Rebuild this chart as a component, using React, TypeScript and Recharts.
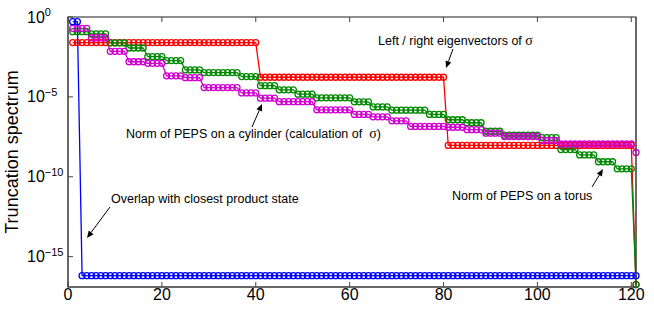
import { LineChart, Line, XAxis, YAxis } from 'recharts'

// index of each singular value (x axis)
const positions = Array.from({ length: 121 }, (_, k) => k + 1)

const overlapRuns: [number, number][] = [
    [-0.29, 2],
    [-16.19, 119],
]
const eigenvectorRuns: [number, number][] = [
    [-1.6, 40],
    [-3.77, 40],
    [-8.04, 40],
    [-16.75, 1],
]
const torusRuns: [number, number][] = [
    [-0.92, 4], [-1.06, 4], [-1.62, 4], [-1.94, 4], [-2.48, 4], [-2.73, 4],
    [-3.31, 4], [-3.48, 8], [-3.73, 4], [-4.3, 4], [-4.56, 4], [-4.83, 4],
    [-5.06, 8], [-5.31, 4], [-5.63, 4], [-5.83, 8], [-6.1, 4], [-6.43, 4],
    [-6.62, 4], [-7.15, 4], [-7.4, 8], [-7.55, 4], [-8.3, 4], [-8.63, 4],
    [-9.06, 4], [-9.5, 4], [-16.75, 1],
]
const cylinderRuns: [number, number][] = [
    [-0.71, 4], [-1.3, 4], [-2.15, 4], [-2.8, 4], [-2.9, 4], [-3.68, 4],
    [-3.8, 4], [-4.42, 8], [-4.75, 4], [-5.08, 4], [-5.3, 8], [-5.81, 8],
    [-6.1, 4], [-6.25, 4], [-6.5, 4], [-6.85, 8], [-6.9, 4], [-7.05, 4],
    [-7.27, 4], [-7.48, 8], [-7.73, 4], [-7.95, 16], [-8.48, 1],
]

const xTicks = [0, 20, 40, 60, 80, 100, 120]
const yTicks = [1, 1e-5, 1e-10, 1e-15]
const yTickExponents = ['0', '\u22125', '\u221210', '\u221215']

const yMin = Math.pow(10, -16.9)
const yTop = 1

const axisColor = '#444'
const font = '"Liberation Sans", Arial, sans-serif'

// plot box
const W = 654
const H = 312
const plotLeft = 68
const plotRight = 636
const plotTop = 17
const plotBottom = 287

const expand = (runs: [number, number][]) =>
    runs.flatMap(([e, n]) => Array(n).fill(Math.pow(10, e)) as number[])

const overlap = expand(overlapRuns)
const eigen = expand(eigenvectorRuns)
const torus = expand(torusRuns)
const cylinder = expand(cylinderRuns)

const data = positions.map((p, k) => ({
    n: p,
    overlap: overlap[k],
    eigen: eigen[k],
    torus: torus[k],
    cylinder: cylinder[k],
}))

const series = [
    { key: 'eigen', color: '#ff0000' },
    { key: 'torus', color: '#008a00' },
    { key: 'cylinder', color: '#d000d0' },
    { key: 'overlap', color: '#0000ff' },
]

function BottomTick({ x, y, payload }: any) {
    return (
        <g>
            <line x1={x} y1={y} x2={x} y2={y - 5} stroke={axisColor} />
            {/* matching inward tick on the top edge */}
            <line x1={x} y1={plotTop} x2={x} y2={plotTop + 5} stroke={axisColor} />
            <text x={x} y={y + 13} textAnchor='middle' fontSize={16} fill='#000' fontFamily={font}>
                {payload.value}
            </text>
        </g>
    )
}

function LeftTick({ x, y, index }: any) {
    return (
        <g>
            <line x1={x} y1={y} x2={x + 5} y2={y} stroke={axisColor} />
            <text x={x - 41} y={y + 5.5} fontSize={16} fill='#000' fontFamily={font}>
                10
                <tspan dy={-6.5} fontSize={11}>
                    {yTickExponents[index]}
                </tspan>
            </text>
        </g>
    )
}

function RightTick({ x, y }: any) {
    return <line x1={x} y1={y} x2={x - 5} y2={y} stroke={axisColor} />
}

function Arrow({ x1, y1, x2, y2 }: { x1: number; y1: number; x2: number; y2: number }) {
    const a = Math.atan2(y2 - y1, x2 - x1)
    const len = 7
    const w = 3
    const bx = x2 - len * Math.cos(a)
    const by = y2 - len * Math.sin(a)
    const px = -Math.sin(a) * w
    const py = Math.cos(a) * w
    return (
        <g>
            <line x1={x1} y1={y1} x2={bx} y2={by} stroke='#000' strokeWidth={1} />
            <polygon points={`${x2},${y2} ${bx + px},${by + py} ${bx - px},${by - py}`} fill='#000' />
        </g>
    )
}

export default function App() {
    return (
        <div
            style={{
                position: 'absolute',
                left: 0,
                top: 0,
                width: W,
                height: H,
                background: '#fff',
                fontFamily: font,
            }}
        >
            <LineChart
                width={W}
                height={H}
                data={data}
                margin={{ top: plotTop, right: 0, bottom: 0, left: 0 }}
            >
                <XAxis
                    dataKey='n'
                    type='number'
                    domain={[0, 121]}
                    ticks={xTicks}
                    height={H - plotBottom}
                    tickSize={0}
                    tickMargin={0}
                    tickLine={false}
                    axisLine={{ stroke: axisColor }}
                    tick={<BottomTick />}
                />
                <YAxis
                    scale='log'
                    domain={[yMin, yTop]}
                    ticks={yTicks}
                    width={plotLeft}
                    tickSize={0}
                    tickMargin={0}
                    tickLine={false}
                    axisLine={{ stroke: axisColor }}
                    tick={<LeftTick />}
                />
                <YAxis
                    yAxisId='right'
                    orientation='right'
                    scale='log'
                    domain={[yMin, yTop]}
                    ticks={yTicks}
                    width={W - plotRight}
                    tickSize={0}
                    tickMargin={0}
                    tickLine={false}
                    axisLine={{ stroke: axisColor }}
                    tick={<RightTick />}
                />
                {series.map((s) => (
                    <Line
                        key={s.key}
                        dataKey={s.key}
                        type='linear'
                        stroke={s.color}
                        strokeWidth={1.3}
                        dot={{ r: 3, fill: 'none', stroke: s.color, strokeWidth: 1.3 }}
                        isAnimationActive={false}
                    />
                ))}
            </LineChart>
            <svg
                width={W}
                height={H}
                style={{ position: 'absolute', left: 0, top: 0, pointerEvents: 'none' }}
            >
                <rect
                    x={plotLeft}
                    y={plotTop}
                    width={plotRight - plotLeft}
                    height={plotBottom - plotTop}
                    fill='none'
                    stroke={axisColor}
                    strokeWidth={1.2}
                />
                <text
                    x={18}
                    y={152}
                    transform='rotate(-90 18 152)'
                    textAnchor='middle'
                    fontSize={18}
                    fill='#000'
                >
                    Truncation spectrum
                </text>
                <g fontSize={12.5} fill='#000'>
                    <text x={378} y={45}>
                        Left / right eigenvectors of{' '}
                        <tspan fontFamily='"Liberation Serif", serif' fontSize={14}>σ</tspan>
                    </text>
                    <text x={126} y={138}>
                        Norm of PEPS on a cylinder (calculation of{'\u00a0\u00a0'}
                        <tspan fontFamily='"Liberation Serif", serif' fontSize={14}>σ</tspan>)
                    </text>
                    <text x={111} y={203}>Overlap with closest product state</text>
                    <text x={452} y={200}>Norm of PEPS on a torus</text>
                </g>
                <Arrow x1={453} y1={49} x2={446} y2={68} />
                <Arrow x1={252} y1={127} x2={262} y2={104} />
                <Arrow x1={110} y1={207} x2={87} y2={238} />
                <Arrow x1={592} y1={187} x2={603} y2={169} />
            </svg>
        </div>
    )
}
